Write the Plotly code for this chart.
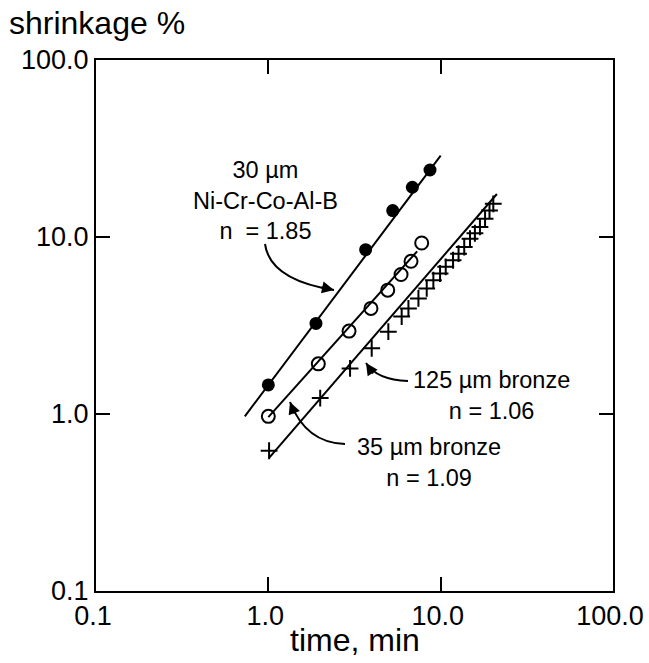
import plotly.graph_objects as go

# filled circles: 30 um Ni-Cr-Co-Al-B
nicr_t = [1.0, 1.89, 3.67, 5.27, 6.85, 8.67]
nicr_s = [1.46, 3.25, 8.48, 14.1, 19.1, 23.9]
nicr_line_t = [0.73, 10.0]
nicr_line_s = [0.97, 28.8]

# open circles: 35 um bronze
b35_t = [1.0, 1.95, 2.94, 3.94, 4.93, 5.89, 6.73, 7.76]
b35_s = [0.97, 1.92, 2.94, 3.95, 5.01, 6.14, 7.29, 9.25]
b35_line_t = [1.0, 7.3]
b35_line_s = [0.96, 8.3]

# crosses: 125 um bronze
b125_t = [1.01, 2.0, 2.98, 3.98, 4.97, 5.94, 6.5, 7.43, 8.3, 9.07, 9.92, 10.7,
          11.8, 12.7, 13.7, 14.8, 15.8, 16.9, 18.1, 19.2, 20.2]
b125_s = [0.62, 1.23, 1.81, 2.35, 2.92, 3.55, 3.95, 4.5, 5.12, 5.7, 6.22, 6.78,
          7.39, 8.05, 8.78, 9.78, 10.5, 11.4, 12.7, 14.1, 15.4]
b125_line_t = [1.01, 21.2]
b125_line_s = [0.565, 17.5]

tick_vals = [0.1, 1, 10, 100]
tick_text = ['0.1', '1.0', '10.0', '100.0']

FONT = 'Liberation Sans, Arial, sans-serif'

fig = go.Figure()

line_style = dict(color='black', width=2)
fig.add_trace(go.Scatter(x=nicr_line_t, y=nicr_line_s, mode='lines', line=line_style))
fig.add_trace(go.Scatter(x=b35_line_t, y=b35_line_s, mode='lines', line=line_style))
fig.add_trace(go.Scatter(x=b125_line_t, y=b125_line_s, mode='lines', line=line_style))

fig.add_trace(go.Scatter(x=nicr_t, y=nicr_s, mode='markers',
                         marker=dict(symbol='circle', size=13, color='black')))
fig.add_trace(go.Scatter(x=b35_t, y=b35_s, mode='markers',
                         marker=dict(symbol='circle-open', size=13, color='black',
                                     line=dict(width=2, color='black'))))
fig.add_trace(go.Scatter(x=b125_t, y=b125_s, mode='markers',
                         marker=dict(symbol='cross-thin', size=12, color='black',
                                     line=dict(width=2, color='black'))))

axis_common = dict(type='log', range=[-1, 2], tickvals=tick_vals, ticktext=tick_text,
                   ticks='inside', ticklen=14, tickwidth=2, tickcolor='black',
                   showline=True, linecolor='black', linewidth=2, mirror='ticks',
                   showgrid=False, zeroline=False, automargin=False,
                   ticklabeloverflow='allow',
                   tickfont=dict(family=FONT, size=27, color='black'))

fig.update_xaxes(**axis_common, ticklabelshift=-3)
fig.update_yaxes(**axis_common)

# plot area in page pixels (body margin is removed below)
W, H = 649, 663
L, R, T, B = 96, 613, 60, 591
def px(x):
    return (x - L) / (R - L)
def py(y):
    return (B - y) / (B - T)

ann_font = dict(family=FONT, size=23.5, color='black')
texts = [
    ('30 µm<br>Ni-Cr-Co-Al-B<br>n  = 1.85', 265, 200),
    ('125 µm bronze<br>n = 1.06', 491, 396),
    ('35 µm bronze<br>n = 1.09', 429, 462),
]
anns = [dict(text=t, x=px(x), y=py(y), xref='paper', yref='paper', showarrow=False,
             font=ann_font, xanchor='center', yanchor='middle', align='center')
        for t, x, y in texts]
anns.append(dict(text='shrinkage %', x=px(8), y=py(23), xref='paper', yref='paper',
                 showarrow=False, xanchor='left', yanchor='middle', borderpad=0,
                 font=dict(family=FONT, size=32, color='black')))
anns.append(dict(text='time, min', x=px(355), y=py(640), xref='paper', yref='paper',
                 showarrow=False, xanchor='center', yanchor='middle', borderpad=0,
                 font=dict(family=FONT, size=32, color='black')))

# curved arrows: (start, control, tip, arrowhead tail offset)
curves = [
    ((265, 244), (270, 280), (334, 290), (-14, -3)),
    ((408, 381), (377, 380), (366, 363), (8, 12)),
    ((345, 444), (306, 443), (290, 402), (5, 13)),
]
shapes = []
for (x0, y0), (cx, cy), (x1, y1), (ax, ay) in curves:
    shapes.append(dict(type='path', xref='paper', yref='paper',
                       path=f'M {px(x0)},{py(y0)} Q {px(cx)},{py(cy)} {px(x1)},{py(y1)}',
                       line=dict(color='black', width=2)))
    anns.append(dict(text='', x=px(x1), y=py(y1), xref='paper', yref='paper',
                     showarrow=True, ax=ax, ay=ay, arrowhead=2, arrowsize=1.2,
                     arrowwidth=2, arrowcolor='black'))

fig.update_layout(width=W, height=H, showlegend=False,
                  margin=dict(l=L, r=W - R, t=T, b=H - B),
                  paper_bgcolor='white', plot_bgcolor='white',
                  annotations=anns, shapes=shapes)

fig.write_html('out.html', config={'displayModeBar': False},
               post_script="document.body.style.margin='0';")
